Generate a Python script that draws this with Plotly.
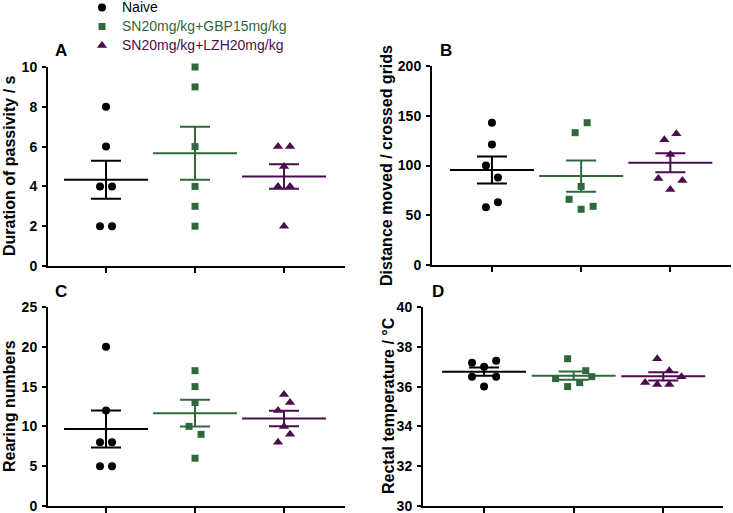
import numpy as np
import plotly.graph_objects as go

# Data, one list per group and panel

groups = ['Naive', 'SN20mg/kg+GBP15mg/kg', 'SN20mg/kg+LZH20mg/kg']

passivity_naive = [8, 6, 4, 4, 2, 2]
passivity_gbp = [10, 9, 6, 4, 3, 2]
passivity_lzh = [6, 6, 5, 4, 4, 2]

distance_naive = [143, 121, 100, 88, 58, 63]
distance_gbp = [143, 133, 79, 66, 56, 59]
distance_lzh = [126, 132, 111, 87, 85, 76]

rearing_naive = [20, 12, 8, 8, 5, 5]
rearing_gbp = [17, 15, 13, 10, 9, 6]
rearing_lzh = [14, 13, 12, 10, 9, 8]

temp_naive = [37.2, 37.0, 37.3, 36.5, 36.5, 36.0]
temp_gbp = [37.4, 36.4, 36.0, 36.2, 36.8, 36.5]
temp_lzh = [37.4, 36.8, 36.5, 36.2, 36.1, 36.1]

y_ticks_a = [0, 2, 4, 6, 8, 10]
y_ticks_b = [0, 50, 100, 150, 200]
y_ticks_c = [0, 5, 10, 15, 20, 25]
y_ticks_d = [30, 32, 34, 36, 38, 40]

# horizontal scatter of the points (pixels), kept apart from the values
spread = {
    'A': [[0, 0, -6, 6, -6, 6], [0, 0, 0, 0, 0, 0], [-6, 6, 0, -6, 6, 0]],
    'B': [[0, 0, -6, 6, -6, 6], [6, -6, 0, -12, 0, 12], [-6, 6, 0, -12, 12, 0]],
    'C': [[0, 0, -6, 6, -6, 6], [0, 0, 0, -6, 6, 0], [0, 6, -6, 0, 6, -6]],
    'D': [[-12, 0, 12, -12, 12, 0], [-6, -18, -6, 6, 12, 18], [-6, 6, 18, -18, -6, 6]],
}

colors = ['#000000', '#2f683c', '#4b0d4e']
symbols = ['circle', 'square', 'triangle-up']
msizes = [8, 7, 9]

W, H = 733, 513
PX = 89.0  # pixels per category step

panels = [
    ('A', [passivity_naive, passivity_gbp, passivity_lzh], 'Duration of passivity / s'),
    ('B', [distance_naive, distance_gbp, distance_lzh], 'Distance moved / crossed grids'),
    ('C', [rearing_naive, rearing_gbp, rearing_lzh], 'Rearing numbers'),
    ('D', [temp_naive, temp_gbp, temp_lzh], 'Rectal temperature / °C'),
]

fig = go.Figure()

for p, (name, series, title) in enumerate(panels):
    xa = 'x' if p == 0 else 'x%d' % (p + 1)
    ya = 'y' if p == 0 else 'y%d' % (p + 1)
    for g, vals in enumerate(series):
        xs = [g + 1 + o / PX for o in spread[name][g]]
        fig.add_trace(go.Scatter(
            x=xs, y=vals, mode='markers', xaxis=xa, yaxis=ya,
            name='<span style="color:%s;font-size:14px">%s</span>' % (colors[g], groups[g]),
            showlegend=(p == 0), cliponaxis=False,
            marker=dict(symbol=symbols[g], size=msizes[g], color=colors[g])))
    for g, vals in enumerate(series):
        v = np.array(vals, dtype=float)
        mean = v.mean()
        sem = v.std(ddof=1) / np.sqrt(len(v))
        fig.add_trace(go.Scatter(
            x=[g + 1], y=[mean], mode='markers', xaxis=xa, yaxis=ya,
            showlegend=False, cliponaxis=False,
            marker=dict(symbol='line-ew', size=60, color=colors[g],
                        line=dict(color=colors[g], width=2)),
            error_y=dict(type='data', array=[sem], visible=True,
                         color=colors[g], thickness=2, width=15)))


def dom_x(a, b):
    return [a / W, b / W]


def dom_y(top, bottom):
    return [1 - bottom / H, 1 - top / H]


tickfont = dict(family='Liberation Sans', size=14, color='black', weight='bold')
xcommon = dict(showline=True, linewidth=2, linecolor='black', ticks='outside',
               ticklen=5, tickwidth=2, tickcolor='black', tickvals=[1, 2, 3],
               showticklabels=False, showgrid=False, zeroline=False)
ycommon = dict(showline=True, linewidth=2, linecolor='black', ticks='outside',
               ticklen=4, tickwidth=2, tickcolor='black', tickfont=tickfont,
               showgrid=False, zeroline=False, ticklabelstandoff=2,
               ticklabeloverflow='allow')

fig.update_layout(
    width=W, height=H,
    margin=dict(l=0, r=0, t=0, b=0, autoexpand=False),
    paper_bgcolor='white', plot_bgcolor='white',
    font=dict(family='Liberation Sans', color='black'),
    xaxis=dict(domain=dom_x(48, 345), range=[0.348, 3.685], anchor='y', **xcommon),
    yaxis=dict(domain=dom_y(67, 266), range=[0, 10], tickvals=y_ticks_a, anchor='x', **ycommon),
    xaxis2=dict(domain=dom_x(432, 731), range=[0.328, 3.68], anchor='y2', **xcommon),
    yaxis2=dict(domain=dom_y(66, 265), range=[0, 200], tickvals=y_ticks_b, anchor='x2', **ycommon),
    xaxis3=dict(domain=dom_x(48, 345), range=[0.348, 3.685], anchor='y3', **xcommon),
    yaxis3=dict(domain=dom_y(307, 506), range=[0, 25], tickvals=y_ticks_c, anchor='x3', **ycommon),
    xaxis4=dict(domain=dom_x(423, 723), range=[0.318, 3.667], anchor='y4', **xcommon),
    yaxis4=dict(domain=dom_y(307, 506), range=[30, 40], tickvals=y_ticks_d, anchor='x4', **ycommon),
    legend=dict(x=82 / W, y=1 + 7 / H, xanchor='left', yanchor='top',
                font=dict(family='Liberation Sans', size=12),
                bgcolor='rgba(0,0,0,0)', tracegroupgap=0),
)

# panel letters and axis titles
letters = [('A', 61, 51), ('B', 446, 51), ('C', 61, 291), ('D', 438, 291)]
for txt, x, y in letters:
    fig.add_annotation(text=txt, x=x / W, y=1 - y / H, xref='paper', yref='paper',
                       showarrow=False, xanchor='center', yanchor='middle',
                       font=dict(family='Liberation Sans', size=17, weight='bold'))

titles = [(panels[0][2], 9, 166), (panels[1][2], 386, 166),
          (panels[2][2], 9, 406), (panels[3][2], 388, 406)]
for txt, x, y in titles:
    fig.add_annotation(text=txt, x=x / W, y=1 - y / H, xref='paper', yref='paper',
                       showarrow=False, textangle=-90, xanchor='center', yanchor='middle',
                       font=dict(family='Liberation Sans', size=16, weight='bold'))

# the page's default body margin would push the figure 8px down and right
fig.write_html("out.html", config={'displayModeBar': False},
               post_script="document.body.style.margin='0px';")
